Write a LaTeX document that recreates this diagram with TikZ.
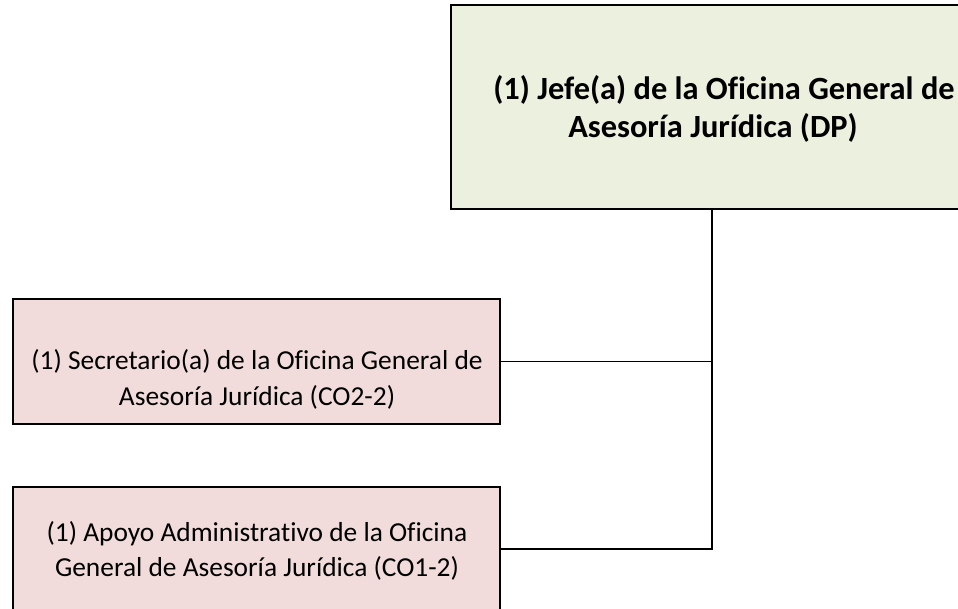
\documentclass[tikz,border=0pt]{standalone}
\usepackage{fontspec}
\setmainfont[Ligatures=NoCommon]{Carlito}
\definecolor{topfill}{HTML}{EBF1DE}
\definecolor{pinkfill}{HTML}{F2DCDB}
\begin{document}
\begin{tikzpicture}[x=1pt,y=-1pt,
  box/.style={draw=black,line width=1.6pt,rectangle,inner sep=0pt},
  conn/.style={draw=black,line width=1.6pt},
  lbl/.style={align=center,inner sep=0pt,text depth=0pt,anchor=base},
  bigtxt/.style={lbl,font=\fontsize{32.4}{40}\selectfont\bfseries},
  smalltxt/.style={lbl,font=\fontsize{27.4}{33}\selectfont}]
\useasboundingbox (0,0) rectangle (958,609);
\begin{scope}
\clip (0,0) rectangle (958,609);
\node[box,fill=topfill,minimum width=534pt,minimum height=204pt] (jefe) at (718,107) {};
\node[box,fill=pinkfill,minimum width=487pt,minimum height=125pt] (secr) at (256.5,361.5) {};
\node[box,fill=pinkfill,minimum width=487pt,minimum height=124pt] (apoyo) at (256.5,549) {};
\coordinate (trunk) at (712,0);
\draw[conn] (jefe.south -| trunk) |- (apoyo.east);
\draw[conn] (secr.east) -- (secr.east -| trunk);
\node[bigtxt] (t1) at (724,100) {(1) Jefe(a) de la Oficina General de};
\node[bigtxt] (t2) at (713,138) {Asesoría Jurídica (DP)};
\node[smalltxt] (s1) at (257,370) {(1) Secretario(a) de la Oficina General de};
\node[smalltxt] (s2) at (257,405) {Asesoría Jurídica (CO2-2)};
\node[smalltxt] (a1) at (257,541) {(1) Apoyo Administrativo de la Oficina};
\node[smalltxt] (a2) at (257,576) {General de Asesoría Jurídica (CO1-2)};
\end{scope}
\end{tikzpicture}
\end{document}
